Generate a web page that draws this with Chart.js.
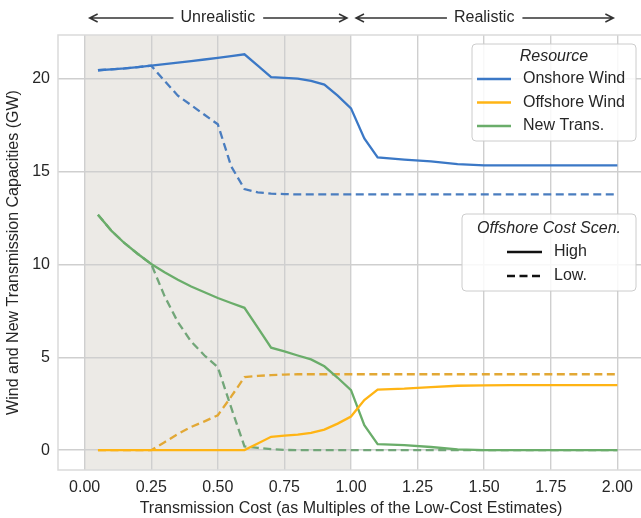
<!DOCTYPE html>
<html>
<head>
<meta charset="utf-8">
<title>Wind and Transmission Capacities</title>
<script src="https://cdn.jsdelivr.net/npm/chart.js@4.4.1/dist/chart.umd.min.js"></script>
<style>
  html, body { margin: 0; padding: 0; background: #fff; overflow: hidden; }
  #wrap { width: 650px; height: 518px; }
</style>
</head>
<body>
<div id="wrap"><canvas id="capacityChart" width="650" height="518"></canvas></div>
<script>
// Transmission cost multiples (x axis)
const costs = [0.05, 0.10, 0.15, 0.20, 0.25, 0.30, 0.35, 0.40, 0.45, 0.50, 0.55, 0.60, 0.65, 0.70, 0.75, 0.80,
               0.85, 0.90, 0.95, 1.00, 1.05, 1.10, 1.20, 1.30, 1.40, 1.50, 1.60, 1.70, 1.80, 1.90, 2.00];

// Capacities in GW, high offshore cost scenario
const onshoreHigh = [20.47, 20.52, 20.57, 20.64, 20.72, 20.80, 20.88, 20.96, 21.05, 21.14, 21.23, 21.33, 20.72, 20.10, 20.06, 20.02,
                     19.90, 19.70, 19.10, 18.42, 16.80, 15.77, 15.66, 15.56, 15.41, 15.35, 15.34, 15.34, 15.34, 15.34, 15.34];
const offshoreHigh = [0, 0, 0, 0, 0, 0, 0, 0, 0, 0, 0, 0, 0.36, 0.72, 0.78, 0.84,
                      0.93, 1.11, 1.43, 1.81, 2.70, 3.26, 3.31, 3.40, 3.47, 3.49, 3.50, 3.50, 3.50, 3.50, 3.50];
const transHigh = [12.69, 11.83, 11.15, 10.57, 10.03, 9.59, 9.18, 8.82, 8.51, 8.20, 7.93, 7.67, 6.60, 5.52, 5.32, 5.10,
                   4.89, 4.52, 3.90, 3.23, 1.34, 0.32, 0.27, 0.17, 0.04, 0, 0, 0, 0, 0, 0];

// Capacities in GW, low offshore cost scenario
const onshoreLow = [20.47, 20.52, 20.57, 20.64, 20.72, 19.90, 19.10, 18.59, 18.07, 17.56, 15.30, 14.07, 13.89, 13.82, 13.80, 13.78,
                    13.78, 13.78, 13.78, 13.78, 13.78, 13.78, 13.78, 13.78, 13.78, 13.78, 13.78, 13.78, 13.78, 13.78, 13.78];
const offshoreLow = [0, 0, 0, 0, 0, 0.43, 0.87, 1.25, 1.55, 1.88, 2.88, 3.93, 4.00, 4.04, 4.07, 4.09,
                     4.09, 4.09, 4.09, 4.09, 4.09, 4.09, 4.09, 4.09, 4.09, 4.09, 4.09, 4.09, 4.09, 4.09, 4.09];
const transLow = [12.69, 11.83, 11.15, 10.57, 10.03, 8.30, 6.90, 5.85, 5.10, 4.47, 2.30, 0.20, 0.12, 0.05, 0.01, 0,
                  0, 0, 0, 0, 0, 0, 0, 0, 0, 0, 0, 0, 0, 0, 0];

// Axis ticks
const xTicks = [0, 0.25, 0.5, 0.75, 1.0, 1.25, 1.5, 1.75, 2.0];
const yTicks = [0, 5, 10, 15, 20];

// Legend entries and the two regions on top
const resourceNames = ['Onshore Wind', 'Offshore Wind', 'New Trans.'];
const scenarioNames = ['High', 'Low.'];
const regionLabels = ['Unrealistic', 'Realistic'];
const regionBounds = [[0, 1], [1, 2]];

const FONT = "'Liberation Sans', Arial, sans-serif";
const TEXT = '#262626';
const DASH = [8, 4.5];
const colors = {
    onshore: '#3b78c6', onshoreDash: '#4a7dbf',
    offshore: '#ffb414', offshoreDash: '#e2a835',
    trans: '#6aad6a', transDash: '#72a679'
};

function toPoints(values) {
    return costs.map((c, i) => ({ x: c, y: values[i] }));
}

function series(label, values, color, dashed) {
    return {
        label: label,
        data: toPoints(values),
        borderColor: color,
        backgroundColor: color,
        borderWidth: 2.3,
        borderDash: dashed ? DASH : [],
        pointRadius: 0,
        tension: 0,
        fill: false
    };
}

function roundRect(ctx, x, y, w, h, r) {
    ctx.beginPath();
    ctx.moveTo(x + r, y);
    ctx.lineTo(x + w - r, y);
    ctx.quadraticCurveTo(x + w, y, x + w, y + r);
    ctx.lineTo(x + w, y + h - r);
    ctx.quadraticCurveTo(x + w, y + h, x + w - r, y + h);
    ctx.lineTo(x + r, y + h);
    ctx.quadraticCurveTo(x, y + h, x, y + h - r);
    ctx.lineTo(x, y + r);
    ctx.quadraticCurveTo(x, y, x + r, y);
    ctx.closePath();
}

function drawArrow(ctx, from, to, y) {
    const dir = to > from ? 1 : -1;
    ctx.beginPath();
    ctx.moveTo(from, y);
    ctx.lineTo(to, y);
    ctx.moveTo(to - dir * 8, y - 4);
    ctx.lineTo(to, y);
    ctx.lineTo(to - dir * 8, y + 4);
    ctx.stroke();
}

// Shaded region, frame, top arrows and the two legends
const decorPlugin = {
    id: 'decor',
    beforeDraw(chart) {
        const { ctx, chartArea: a, scales: { x } } = chart;
        const x0 = x.getPixelForValue(regionBounds[0][0]);
        const x1 = x.getPixelForValue(regionBounds[0][1]);
        ctx.save();
        ctx.fillStyle = '#eceae6';
        ctx.fillRect(x0, a.top, x1 - x0, a.bottom - a.top);
        ctx.restore();
    },
    beforeDatasetsDraw(chart) {
        const { ctx, chartArea: a } = chart;
        ctx.save();
        ctx.strokeStyle = '#dadada';
        ctx.lineWidth = 1.5;
        ctx.strokeRect(a.left, a.top, a.right - a.left, a.bottom - a.top);
        ctx.restore();
    },
    afterDraw(chart) {
        const { ctx, scales: { x } } = chart;
        ctx.save();

        // region arrows
        ctx.font = '16px ' + FONT;
        ctx.fillStyle = TEXT;
        ctx.strokeStyle = '#333';
        ctx.lineWidth = 1.5;
        ctx.textAlign = 'center';
        ctx.textBaseline = 'middle';
        const arrowY = 18;
        regionLabels.forEach((label, i) => {
            const left = x.getPixelForValue(regionBounds[i][0]) + 5;
            const right = x.getPixelForValue(regionBounds[i][1]) - 4;
            const mid = (x.getPixelForValue(regionBounds[i][0]) + x.getPixelForValue(regionBounds[i][1])) / 2;
            const w = ctx.measureText(label).width;
            ctx.fillText(label, mid, arrowY);
            drawArrow(ctx, mid - w / 2 - 7, left, arrowY);
            drawArrow(ctx, mid + w / 2 + 8, right, arrowY);
        });

        // Resource legend
        ctx.fillStyle = 'rgba(255,255,255,0.85)';
        ctx.strokeStyle = '#cccccc';
        ctx.lineWidth = 1;
        roundRect(ctx, 472, 44, 164, 97, 4);
        ctx.fill();
        ctx.stroke();
        ctx.fillStyle = TEXT;
        ctx.font = 'italic 16px ' + FONT;
        ctx.fillText('Resource', 554, 57);
        ctx.font = '16px ' + FONT;
        ctx.textAlign = 'left';
        const resColors = [colors.onshore, colors.offshore, colors.trans];
        resourceNames.forEach((name, i) => {
            const y = 79 + i * 23.5;
            ctx.strokeStyle = resColors[i];
            ctx.lineWidth = 2.3;
            ctx.setLineDash([]);
            ctx.beginPath();
            ctx.moveTo(477, y);
            ctx.lineTo(511, y);
            ctx.stroke();
            ctx.fillText(name, 523, y);
        });

        // Scenario legend
        ctx.fillStyle = 'rgba(255,255,255,0.85)';
        ctx.strokeStyle = '#cccccc';
        ctx.lineWidth = 1;
        roundRect(ctx, 462, 214, 174, 77, 4);
        ctx.fill();
        ctx.stroke();
        ctx.fillStyle = TEXT;
        ctx.textAlign = 'center';
        ctx.font = 'italic 16px ' + FONT;
        ctx.fillText('Offshore Cost Scen.', 549, 229);
        ctx.font = '16px ' + FONT;
        ctx.textAlign = 'left';
        scenarioNames.forEach((name, i) => {
            const y = 252 + i * 24;
            ctx.strokeStyle = '#111';
            ctx.lineWidth = 2.5;
            ctx.setLineDash(i === 1 ? DASH : []);
            ctx.beginPath();
            ctx.moveTo(507, y);
            ctx.lineTo(542, y);
            ctx.stroke();
            ctx.fillText(name, 554, y);
        });
        ctx.restore();
    }
};

new Chart(document.getElementById('capacityChart'), {
    type: 'line',
    data: {
        datasets: [
            series('Onshore Wind (High)', onshoreHigh, colors.onshore, false),
            series('Offshore Wind (High)', offshoreHigh, colors.offshore, false),
            series('New Trans. (High)', transHigh, colors.trans, false),
            series('Onshore Wind (Low)', onshoreLow, colors.onshoreDash, true),
            series('Offshore Wind (Low)', offshoreLow, colors.offshoreDash, true),
            series('New Trans. (Low)', transLow, colors.transDash, true)
        ]
    },
    options: {
        responsive: false,
        animation: false,
        layout: { padding: { top: 35, right: 6, left: 0, bottom: 0 } },
        plugins: {
            legend: { display: false },
            tooltip: { enabled: false }
        },
        scales: {
            x: {
                type: 'linear',
                min: -0.1,
                max: 2.1,
                afterBuildTicks: s => { s.ticks = xTicks.map(v => ({ value: v })); },
                afterFit: s => { s.height = 48; },
                grid: { color: '#cfcfcf', lineWidth: 1.4, drawTicks: false },
                border: { display: false },
                ticks: {
                    callback: v => v.toFixed(2),
                    font: { family: FONT, size: 16 },
                    color: TEXT,
                    padding: 8,
                    maxRotation: 0,
                    autoSkip: false
                },
                title: {
                    display: true,
                    text: 'Transmission Cost (as Multiples of the Low-Cost Estimates)',
                    font: { family: FONT, size: 16 },
                    color: TEXT,
                    padding: { top: 0, bottom: 0 }
                }
            },
            y: {
                min: -1.07,
                max: 22.37,
                afterBuildTicks: s => { s.ticks = yTicks.map(v => ({ value: v })); },
                afterFit: s => { s.width = 58; },
                grid: { color: '#cfcfcf', lineWidth: 1.4, drawTicks: false },
                border: { display: false },
                ticks: {
                    callback: v => String(v),
                    font: { family: FONT, size: 16 },
                    color: TEXT,
                    padding: 8
                },
                title: {
                    display: true,
                    text: 'Wind and New Transmission Capacities (GW)',
                    font: { family: FONT, size: 16 },
                    color: TEXT,
                    padding: { top: 4, bottom: 0 }
                }
            }
        }
    },
    plugins: [decorPlugin]
});
</script>
</body>
</html>
